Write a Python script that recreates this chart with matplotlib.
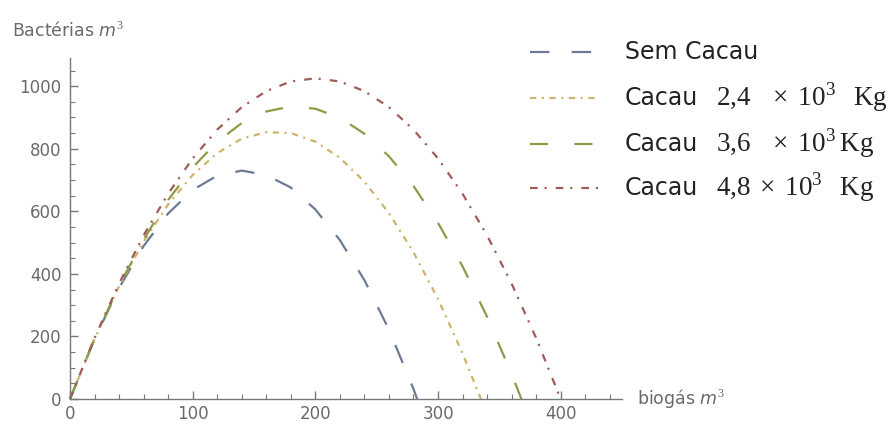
import matplotlib
matplotlib.use("Agg")
import matplotlib.pyplot as plt
from matplotlib.lines import Line2D
from matplotlib.ticker import MultipleLocator

plt.rcParams['lines.scale_dashes'] = False
plt.rcParams['font.family'] = ['DejaVu Sans']
plt.rcParams['mathtext.fontset'] = 'custom'
plt.rcParams['mathtext.rm'] = 'Liberation Serif'
plt.rcParams['mathtext.it'] = 'DejaVu Sans:italic'

# ---- data ----
x_sem = [0, 20, 40, 60, 80, 100, 120, 140, 160, 180, 200, 220, 240, 260, 280, 283]
y_sem = [0, 192, 355, 489, 593, 668, 714, 730, 716, 676, 606, 508, 380, 222, 32, 0]

x_24 = [0, 20, 40, 60, 80, 100, 120, 140, 160, 180, 200, 220, 240, 260, 280, 300, 320, 335]
y_24 = [0, 192, 360, 503, 622, 716, 786, 832, 853, 850, 823, 771, 695, 594, 469, 320, 146, 0]

x_36 = [0, 20, 40, 60, 80, 100, 120, 140, 160, 180, 200, 220, 240, 260, 280, 300, 320, 340, 360, 368]
y_36 = [0, 192, 362, 510, 636, 740, 822, 882, 919, 935, 928, 899, 848, 776, 681, 563, 424, 263, 80, 0]

x_48 = [0, 20, 40, 60, 80, 100, 120, 140, 160, 180, 200, 220, 240, 260, 280, 300, 320, 340, 360, 380, 400]
y_48 = [0, 195, 369, 523, 656, 769, 861, 933, 984, 1015, 1025, 1015, 984, 933, 861, 769, 656, 523, 369, 195, 0]

cacau_labels = ["Sem Cacau", "Cacau", "Cacau", "Cacau"]
cacau_amounts = ["", r"$\mathrm{2{,}4}\ \ \times\,\mathrm{10}^{\mathrm{3}}\ \ \mathrm{Kg}$",
                 r"$\mathrm{3{,}6}\ \ \times\,\mathrm{10}^{\mathrm{3}}\,\mathrm{Kg}$",
                 r"$\mathrm{4{,}8}\,\times\,\mathrm{10}^{\mathrm{3}}\ \ \mathrm{Kg}$"]
x_ticks = [0, 100, 200, 300, 400]
y_ticks = [0, 200, 400, 600, 800, 1000]

colors = ['#6c7a94', '#cdb46e', '#8c9b48', '#a05c58']
dashes = [(0, (14, 16)), (0, (4.5, 4, 1.5, 4)), (0, (13, 19)), (0, (5.5, 5, 1.5, 6.5))]

W, H = 893, 426
fig = plt.figure(figsize=(W / 100, H / 100), dpi=100)
ax = fig.add_axes([70 / W, 1 - 399 / H, (622 - 70) / W, (399 - 58) / H])

series = [(x_sem, y_sem), (x_24, y_24), (x_36, y_36), (x_48, y_48)]
for (xs, ys), c, d in zip(series, colors, dashes):
    ax.plot(xs, ys, color=c, linestyle=d, linewidth=1.6, clip_on=False)

ax.set_xlim(0, 450)
ax.set_ylim(0, 1090)
ax.set_xticks(x_ticks)
ax.set_yticks(y_ticks)
ax.xaxis.set_minor_locator(MultipleLocator(20))
ax.yaxis.set_minor_locator(MultipleLocator(50))
for s in ['top', 'right']:
    ax.spines[s].set_visible(False)
for s in ['left', 'bottom']:
    ax.spines[s].set_color('#777777')
    ax.spines[s].set_linewidth(1.0)
ax.tick_params(which='major', direction='in', length=6, width=1.0, color='#777777',
               labelcolor='#6a6a6a', labelsize=12)
ax.tick_params(which='minor', direction='in', length=3.5, width=0.8, color='#777777')
ax.tick_params(axis='x', pad=4)
ax.tick_params(axis='y', pad=6)

fig.text(12 / W, 1 - 31 / H, r"Bactérias $\mathit{m}^3$", color='#6a6a6a', fontsize=12.5,
         ha='left', va='center')
fig.text(637 / W, 1 - 398 / H, r"biogás $\mathit{m}^3$", color='#6a6a6a', fontsize=12.5,
         ha='left', va='center')

# legend drawn manually
rows_y = [52, 98, 144, 188]
for i, (lab, amt, c, d) in enumerate(zip(cacau_labels, cacau_amounts, colors, dashes)):
    yf = 1 - rows_y[i] / H
    ln = Line2D([530 / W, 598 / W], [yf, yf], transform=fig.transFigure, color=c,
                linestyle=d, linewidth=1.6)
    fig.add_artist(ln)
    fig.text(625 / W, yf, lab, fontsize=17, color='#222222', ha='left', va='center')
    if amt:
        fig.text(716 / W, yf - 8 / H, amt, fontsize=19.5, color='#222222', ha='left',
                 va='baseline')

fig.savefig("out.png", dpi=100)
